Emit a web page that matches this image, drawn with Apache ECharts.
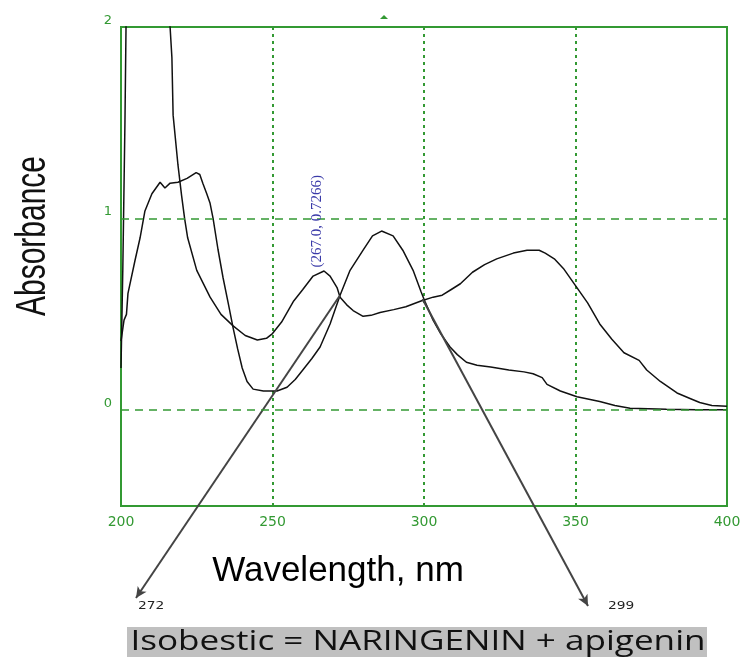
<!DOCTYPE html>
<html>
<head>
<meta charset="utf-8">
<script src="https://cdn.jsdelivr.net/npm/echarts/dist/echarts.min.js"></script>
<style>
html, body { margin: 0; padding: 0; background: #fff; }
#main { width: 749px; height: 657px; }
</style>
</head>
<body>
<div id="main"></div>
<script>
// apigenin trace (peaks 267 / ~336 nm)
var apigeninWl = [200, 200.6, 201.3, 201.8, 214.5, 216.2, 216.8, 217.2, 218.8, 220, 221, 222, 225, 229.4, 233, 237, 241, 245, 248, 250, 253, 257, 260, 263.4, 267, 269, 271.3, 272.3, 274.5, 276.6, 279.9, 282.5, 285.5, 290, 294, 299, 303, 306, 309, 312, 316, 320, 324, 329.5, 334, 338, 340, 343, 346, 350, 354, 358, 362, 366, 371, 373.5, 378, 383.5, 388, 391, 395, 400];
var apigeninAbs = [0.22, 0.74, 1.5, 2.2, 2.2, 2.0, 1.84, 1.54, 1.28, 1.12, 1.0, 0.9, 0.73, 0.59, 0.5, 0.44, 0.39, 0.366, 0.375, 0.4, 0.46, 0.57, 0.63, 0.7, 0.7266, 0.7, 0.64, 0.59, 0.55, 0.52, 0.49, 0.495, 0.51, 0.525, 0.54, 0.57, 0.59, 0.6, 0.63, 0.66, 0.72, 0.76, 0.79, 0.82, 0.835, 0.835, 0.82, 0.79, 0.74, 0.65, 0.56, 0.45, 0.37, 0.3, 0.26, 0.21, 0.15, 0.09, 0.06, 0.04, 0.025, 0.02];

// naringenin trace (peaks ~225 / 286 nm)
var naringeninWl = [200, 201, 201.8, 202.3, 204.6, 206.3, 207.9, 210.2, 212.9, 214.5, 216.2, 218.8, 221.8, 224.8, 226, 227, 228.3, 229.4, 230.4, 232, 233.7, 235.5, 237, 238.5, 240, 241.6, 243.6, 247, 251.5, 254.8, 257.5, 260, 263, 265.7, 269, 272.3, 275.6, 279.9, 283, 286, 289.8, 293, 296.4, 299, 300.5, 303, 305.5, 308.6, 311, 314, 317.5, 322, 328, 333, 336, 339, 340.6, 345, 350.5, 358, 363, 368, 380, 390, 400];
var naringeninAbs = [0.36, 0.47, 0.5, 0.61, 0.78, 0.9, 1.04, 1.13, 1.19, 1.16, 1.185, 1.19, 1.21, 1.24, 1.23, 1.185, 1.13, 1.08, 1.0, 0.84, 0.69, 0.55, 0.43, 0.32, 0.22, 0.15, 0.11, 0.1, 0.1, 0.12, 0.16, 0.21, 0.27, 0.33, 0.45, 0.6, 0.73, 0.835, 0.91, 0.935, 0.91, 0.835, 0.73, 0.62, 0.56, 0.47, 0.4, 0.33, 0.29, 0.25, 0.235, 0.225, 0.21, 0.2, 0.19, 0.17, 0.135, 0.1, 0.07, 0.045, 0.025, 0.01, 0.005, 0.003, 0.002];

var xTicks = [200, 250, 300, 350, 400];
var yTicks = [0, 1, 2];
var refLines = [0, 1];
var peakPoint = [267.0, 0.7266];
var isoPoints = [[272.3, 0.6], [299.5, 0.58]];
var isoLabels = ['272', '299'];

var green = "#339933";

function zip(xs, ys) {
  return xs.map(function (x, i) { return [x, ys[i]]; });
}

var myChart = echarts.init(document.getElementById("main"));

var option = {
  animation: false,
  backgroundColor: "#fff",
  grid: {
    left: 121, right: 22, top: 27, bottom: 151,
    show: true, borderColor: green, borderWidth: 2,
    containLabel: false, outerBoundsMode: "none"
  },
  xAxis: {
    type: "value",
    min: xTicks[0], max: xTicks[xTicks.length - 1], interval: 50,
    axisLine: { show: true, onZero: false, lineStyle: { color: green, width: 2 } },
    axisTick: { show: false },
    axisLabel: { color: green, fontSize: 14, margin: 9, fontFamily: "DejaVu Sans" },
    splitLine: { show: true, lineStyle: { color: green, type: [3, 4], width: 2 } },
    name: "Wavelength, nm",
    nameLocation: "middle",
    nameGap: 48,
    nameTextStyle: { color: "#000", fontSize: 35, fontFamily: "Liberation Sans", padding: [0, 172, 0, 0] }
  },
  yAxis: {
    type: "value",
    min: -0.5, max: 2, interval: 0.5,
    axisLine: { show: true, onZero: false, lineStyle: { color: green, width: 2 } },
    axisTick: { show: false },
    splitLine: { show: false },
    axisLabel: {
      color: green, fontSize: 13, margin: 9, fontFamily: "DejaVu Sans",
      verticalAlign: "bottom",
      formatter: function (v) { return yTicks.indexOf(v) >= 0 ? String(v) : ""; }
    }
  },
  series: [
    {
      name: "apigenin",
      type: "line",
      symbol: "none",
      clip: true,
      lineStyle: { color: "#111", width: 1.5 },
      data: zip(apigeninWl, apigeninAbs),
      markPoint: {
        silent: true,
        symbol: "circle",
        symbolSize: 1,
        itemStyle: { color: "rgba(0,0,0,0)" },
        label: {
          show: true,
          formatter: "(" + peakPoint[0].toFixed(1) + ", " + peakPoint[1] + ")",
          rotate: 90,
          position: [0, 0],
          offset: [3, -6],
          align: "left",
          verticalAlign: "middle",
          color: "#3a3aa8",
          fontSize: 15,
          fontFamily: "Liberation Serif"
        },
        data: [{ coord: peakPoint }]
      },
      markLine: {
        silent: true,
        symbol: ["none", "arrow"],
        symbolSize: [8, 11],
        label: { show: false },
        lineStyle: { color: "#444", width: 2, type: "solid" },
        data: [
          [{ coord: isoPoints[0] }, { x: 136, y: 598 }],
          [{ coord: isoPoints[1] }, { x: 588, y: 606 }]
        ]
      }
    },
    {
      name: "naringenin",
      type: "line",
      symbol: "none",
      clip: true,
      lineStyle: { color: "#111", width: 1.5 },
      data: zip(naringeninWl, naringeninAbs),
      markLine: {
        silent: true,
        symbol: "none",
        label: { show: false },
        lineStyle: { color: green, type: [8, 6], width: 1.5 },
        data: refLines.map(function (v) { return { yAxis: v }; })
      }
    }
  ],
  graphic: [
    {
      type: "text",
      x: 33, y: 236,
      rotation: Math.PI / 2,
      scaleY: 1.4,
      style: {
        text: "Absorbance",
        fontSize: 30,
        fontFamily: "Liberation Sans",
        fill: "#111",
        textAlign: "center",
        textVerticalAlign: "middle"
      }
    },
    {
      type: "text",
      x: 138, y: 606,
      scaleX: 1.25,
      style: { text: isoLabels[0], fontSize: 11, fontFamily: "DejaVu Sans", fill: "#222", textVerticalAlign: "middle" }
    },
    {
      type: "text",
      x: 608, y: 606,
      scaleX: 1.25,
      style: { text: isoLabels[1], fontSize: 11, fontFamily: "DejaVu Sans", fill: "#222", textVerticalAlign: "middle" }
    },
    {
      type: "polygon",
      shape: { points: [[380, 19], [388, 19], [384, 15]] },
      style: { fill: green }
    },
    {
      type: "rect",
      shape: { x: 127, y: 627, width: 580, height: 30 },
      style: { fill: "#c0c0c0" }
    },
    {
      type: "text",
      x: 418, y: 642,
      scaleX: 1.3,
      style: {
        text: "Isobestic = NARINGENIN + apigenin",
        fontSize: 27,
        fontFamily: "Open Sans",
        fill: "#111",
        textAlign: "center",
        textVerticalAlign: "middle"
      }
    }
  ]
};

myChart.setOption(option);
</script>
</body>
</html>
